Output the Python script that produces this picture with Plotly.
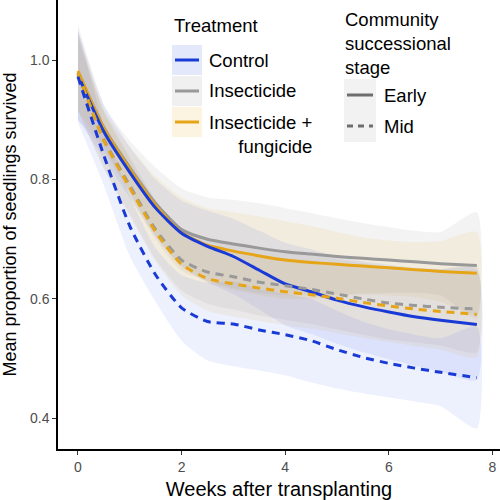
import plotly.graph_objects as go

# ---------------- data ----------------
weeks = [0, 0.5, 1, 1.5, 2, 2.5, 3, 3.5, 4, 4.5, 5, 5.5, 6, 6.5, 7, 7.7]

control_early = [0.975, 0.880, 0.812, 0.752, 0.710, 0.688, 0.671, 0.648, 0.625, 0.612, 0.598, 0.587, 0.578, 0.570, 0.564, 0.557]
control_mid = [0.972, 0.840, 0.722, 0.640, 0.585, 0.562, 0.558, 0.548, 0.540, 0.530, 0.515, 0.502, 0.492, 0.484, 0.477, 0.468]
insect_early = [0.980, 0.887, 0.820, 0.760, 0.716, 0.700, 0.692, 0.685, 0.679, 0.675, 0.671, 0.668, 0.665, 0.662, 0.659, 0.656]
insect_mid = [0.978, 0.867, 0.790, 0.716, 0.665, 0.645, 0.637, 0.628, 0.622, 0.616, 0.608, 0.600, 0.593, 0.589, 0.586, 0.583]
insfung_early = [0.982, 0.885, 0.817, 0.756, 0.711, 0.690, 0.680, 0.672, 0.665, 0.661, 0.658, 0.655, 0.652, 0.649, 0.646, 0.643]
insfung_mid = [0.978, 0.865, 0.786, 0.712, 0.658, 0.634, 0.625, 0.618, 0.612, 0.607, 0.601, 0.594, 0.588, 0.583, 0.579, 0.574]

# ribbon (confidence band) limits
control_early_hi = [1.050, 0.925, 0.855, 0.800, 0.765, 0.748, 0.734, 0.714, 0.694, 0.683, 0.671, 0.663, 0.657, 0.652, 0.650, 0.650]
control_mid_lo = [0.895, 0.790, 0.672, 0.595, 0.530, 0.497, 0.487, 0.480, 0.472, 0.460, 0.450, 0.442, 0.435, 0.428, 0.420, 0.383]
insect_early_hi = [1.060, 0.925, 0.865, 0.820, 0.785, 0.770, 0.766, 0.760, 0.752, 0.744, 0.735, 0.727, 0.720, 0.714, 0.712, 0.745]
insect_mid_hi = [1.040, 0.915, 0.838, 0.766, 0.716, 0.698, 0.692, 0.684, 0.679, 0.674, 0.667, 0.660, 0.654, 0.651, 0.650, 0.655]
insfung_early_hi = [1.050, 0.915, 0.855, 0.805, 0.770, 0.752, 0.745, 0.738, 0.730, 0.722, 0.712, 0.703, 0.698, 0.695, 0.697, 0.712]
insfung_mid_hi = [1.040, 0.912, 0.834, 0.762, 0.710, 0.688, 0.680, 0.673, 0.668, 0.664, 0.659, 0.653, 0.648, 0.645, 0.643, 0.646]

x_ticks = [0, 2, 4, 6, 8]
y_ticks = [0.4, 0.6, 0.8, 1.0]
treatments = ["Control", "Insecticide", "Insecticide +<br>fungicide"]
stages = ["Early", "Mid"]

# ---------------- style ----------------
BLUE = "#1a3ad6"
GRAY = "#999999"
ORANGE = "#e6a417"
FILL_BLUE = "rgba(50,90,235,0.09)"
FILL_GRAY = "rgba(150,150,150,0.11)"
FILL_ORANGE = "rgba(230,164,23,0.09)"

def mirror(line, edge):
    return [2 * l - e for l, e in zip(line, edge)]

series = [
    # (line, hi, lo, color, fill, dash)
    (insect_early, insect_early_hi, mirror(insect_early, insect_early_hi), GRAY, FILL_GRAY, "solid"),
    (insfung_early, insfung_early_hi, mirror(insfung_early, insfung_early_hi), ORANGE, FILL_ORANGE, "solid"),
    (control_early, control_early_hi, mirror(control_early, control_early_hi), BLUE, FILL_BLUE, "solid"),
    (insect_mid, insect_mid_hi, mirror(insect_mid, insect_mid_hi), GRAY, FILL_GRAY, "8px,6px"),
    (insfung_mid, insfung_mid_hi, mirror(insfung_mid, insfung_mid_hi), ORANGE, FILL_ORANGE, "8px,6px"),
    (control_mid, mirror(control_mid, control_mid_lo), control_mid_lo, BLUE, FILL_BLUE, "8px,6px"),
]

fig = go.Figure()

for line, hi, lo, col, fill, dash in series:
    fig.add_trace(go.Scatter(
        x=weeks + weeks[::-1], y=hi + lo[::-1],
        fill="toself", fillcolor=fill, mode="lines",
        line=dict(width=0, shape="spline", smoothing=0.6),
        hoverinfo="skip", showlegend=False))

for line, hi, lo, col, fill, dash in series:
    fig.add_trace(go.Scatter(
        x=weeks, y=line, mode="lines",
        line=dict(color=col, width=3, dash=dash, shape="spline", smoothing=0.6),
        showlegend=False))

# ---------------- layout ----------------
L, T, W, H = 58, 0, 442, 449

def px(xp):
    return (xp - L) / W

def py(yp):
    return 1 - (yp - T) / H

FONT = "Liberation Sans, Arial, sans-serif"
FS = 18.5
shapes = []
annotations = []

# Treatment legend
annotations.append(dict(x=px(172), y=py(25), xref="paper", yref="paper", text="Treatment",
                        showarrow=False, xanchor="left", yanchor="middle",
                        font=dict(size=FS, color="black", family=FONT)))
key_rows = [(60, FILL_BLUE, BLUE), (91, FILL_GRAY, GRAY), (122, FILL_ORANGE, ORANGE)]
key_bg = ["#e3e9fa", "#f0f0f0", "#fdf3e1"]
for (yc, fc, lc), bg in zip(key_rows, key_bg):
    shapes.append(dict(type="rect", xref="paper", yref="paper",
                       x0=px(172), x1=px(202), y0=py(yc - 15), y1=py(yc + 15),
                       fillcolor=bg, line=dict(width=0)))
    shapes.append(dict(type="line", xref="paper", yref="paper",
                       x0=px(175), x1=px(199), y0=py(yc), y1=py(yc),
                       line=dict(color=lc, width=3)))
for (yc, fc, lc), name in zip(key_rows, treatments):
    if "<br>" in name:
        annotations.append(dict(x=px(207), y=py(yc - 12), xref="paper", yref="paper", text=name,
                                showarrow=False, xanchor="left", yanchor="top", align="right",
                                font=dict(size=FS, color="black", family=FONT)))
    else:
        annotations.append(dict(x=px(207), y=py(yc), xref="paper", yref="paper", text=name,
                                showarrow=False, xanchor="left", yanchor="middle",
                                font=dict(size=FS, color="black", family=FONT)))

# Stage legend
annotations.append(dict(x=px(343), y=py(7), xref="paper", yref="paper",
                        text="Community<br>successional<br>stage",
                        showarrow=False, xanchor="left", yanchor="top", align="left",
                        font=dict(size=FS, color="black", family=FONT)))
shapes.append(dict(type="rect", xref="paper", yref="paper",
                   x0=px(344), x1=px(376), y0=py(79), y1=py(142),
                   fillcolor="#f2f2f2", line=dict(width=0)))
for yc, name, dash in [(95, stages[0], "solid"), (126, stages[1], "6px,5px")]:
    shapes.append(dict(type="line", xref="paper", yref="paper",
                       x0=px(347), x1=px(373), y0=py(yc), y1=py(yc),
                       line=dict(color="#6e6e6e", width=3, dash=dash)))
    annotations.append(dict(x=px(382), y=py(yc), xref="paper", yref="paper", text=name,
                            showarrow=False, xanchor="left", yanchor="middle",
                            font=dict(size=FS, color="black", family=FONT)))

fig.update_layout(
    width=500, height=500,
    margin=dict(l=L, r=0, t=T, b=500 - H - T, autoexpand=False),
    paper_bgcolor="white", plot_bgcolor="white",
    font=dict(family=FONT, color="black"),
    showlegend=False,
    shapes=shapes, annotations=annotations,
    xaxis=dict(range=[-0.386, 8.147], tickvals=x_ticks, ticktext=[str(v) for v in x_ticks],
               automargin=False,
               showgrid=False, zeroline=False, showline=True, linecolor="black", linewidth=1.5,
               ticks="outside", ticklen=4, tickcolor="#333", tickwidth=1.2,
               tickfont=dict(size=14, color="#4d4d4d"),
               title=dict(text="Weeks after transplanting", font=dict(size=20, color="black"))),
    yaxis=dict(range=[0.3485, 1.1007], tickvals=y_ticks, ticktext=[f"{v:.1f}" for v in y_ticks],
               automargin=False,
               showgrid=False, zeroline=False, showline=True, linecolor="black", linewidth=1.5,
               ticks="outside", ticklen=4, tickcolor="#333", tickwidth=1.2,
               tickfont=dict(size=14, color="#4d4d4d"),
               title=dict(text="Mean proportion of seedlings survived", font=dict(size=18, color="black"))),
)

fig.write_html("out.html", config={"displayModeBar": False},
               post_script="document.body.style.margin='0';document.body.style.overflow='hidden';")
